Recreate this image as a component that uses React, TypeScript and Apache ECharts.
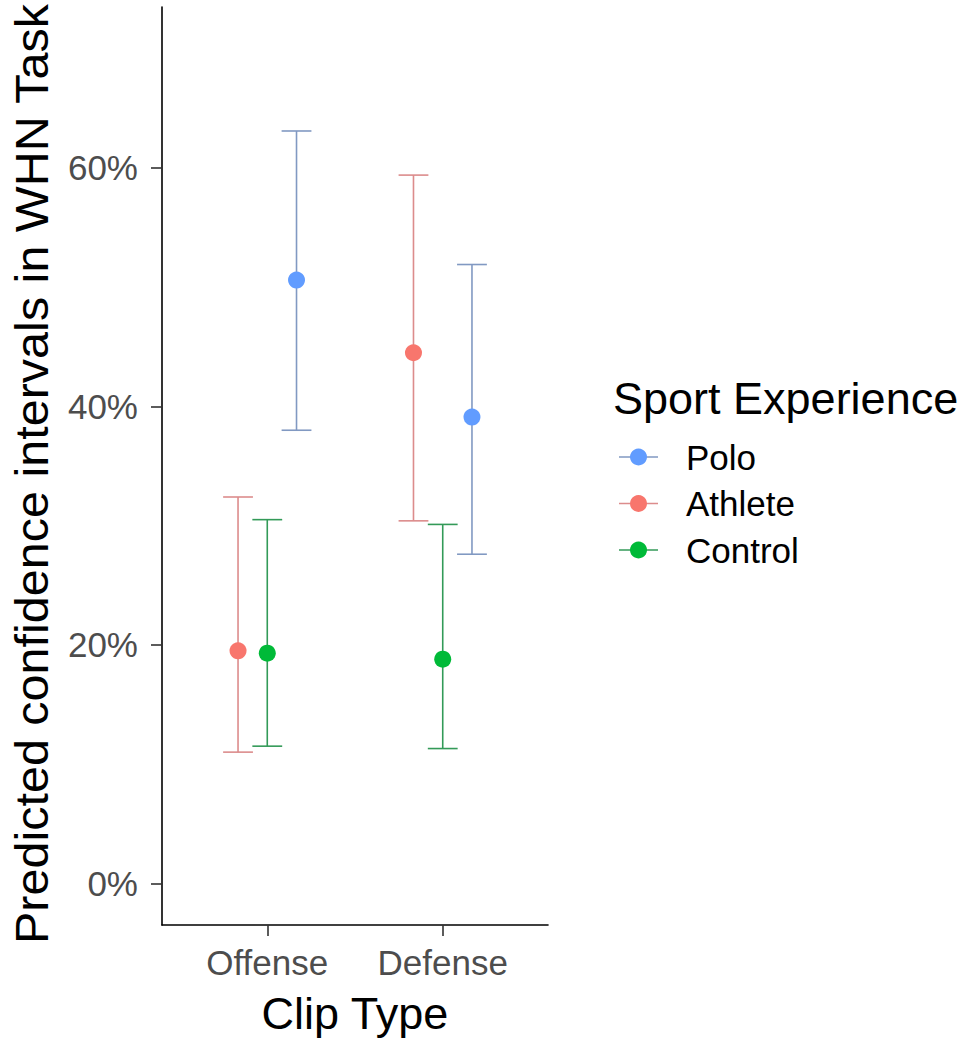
import React, { useEffect, useRef } from "react";
import * as echarts from "echarts";

// Clip types on the x axis and sport-experience groups
const CATEGORIES = ["Offense", "Defense"];
const GROUPS = ["Polo", "Athlete", "Control"];

// Predicted confidence (%) with lower / upper interval bounds, per clip type
const POLO_EST = [50.6, 39.1];
const POLO_LO = [38.0, 27.6];
const POLO_HI = [63.1, 51.9];

const ATHLETE_EST = [19.5, 44.5];
const ATHLETE_LO = [11.0, 30.4];
const ATHLETE_HI = [32.4, 59.4];

const CONTROL_EST = [19.3, 18.8];
const CONTROL_LO = [11.5, 11.3];
const CONTROL_HI = [30.5, 30.1];

const Y_TICKS = [0, 20, 40, 60];

const SERIES_DATA: Record<string, { est: number[]; lo: number[]; hi: number[] }> = {
  Polo: { est: POLO_EST, lo: POLO_LO, hi: POLO_HI },
  Athlete: { est: ATHLETE_EST, lo: ATHLETE_LO, hi: ATHLETE_HI },
  Control: { est: CONTROL_EST, lo: CONTROL_LO, hi: CONTROL_HI },
};

const POINT_COLORS: Record<string, string> = {
  Polo: "#619CFF",
  Athlete: "#F8766D",
  Control: "#00BA38",
};
const BAR_COLORS: Record<string, string> = {
  Polo: "#8199c2",
  Athlete: "#dc8c8c",
  Control: "#339a58",
};

// position dodge (width 0.5 shared by three groups)
const DODGE: Record<string, number> = { Athlete: -1 / 6, Control: 0, Polo: 1 / 6 };
const CAP_WIDTH = 0.17;

const FONT = "Liberation Sans, Arial, sans-serif";

function xPos(catIndex: number, group: string) {
  return catIndex + 1 + DODGE[group];
}

function buildOption() {
  const series: any[] = [];
  GROUPS.forEach((g) => {
    const d = SERIES_DATA[g];
    series.push({
      type: "custom",
      name: g + " interval",
      z: 2,
      clip: false,
      encode: { x: 0, y: [1, 2] },
      data: CATEGORIES.map((_, i) => [xPos(i, g), d.lo[i], d.hi[i]]),
      renderItem: (params: any, api: any) => {
        const x = api.value(0);
        const lo = api.value(1);
        const hi = api.value(2);
        const top = api.coord([x, hi]);
        const bot = api.coord([x, lo]);
        const left = api.coord([x - CAP_WIDTH / 2, hi])[0];
        const right = api.coord([x + CAP_WIDTH / 2, hi])[0];
        const style = { stroke: BAR_COLORS[g], lineWidth: 1.6, fill: null };
        return {
          type: "group",
          children: [
            { type: "line", shape: { x1: top[0], y1: top[1], x2: bot[0], y2: bot[1] }, style },
            { type: "line", shape: { x1: left, y1: top[1], x2: right, y2: top[1] }, style },
            { type: "line", shape: { x1: left, y1: bot[1], x2: right, y2: bot[1] }, style },
          ],
        };
      },
    });
  });
  GROUPS.forEach((g) => {
    const d = SERIES_DATA[g];
    series.push({
      type: "scatter",
      name: g,
      z: 3,
      symbol: "circle",
      symbolSize: 17,
      itemStyle: { color: POINT_COLORS[g], opacity: 1 },
      data: CATEGORIES.map((_, i) => [xPos(i, g), d.est[i]]),
    });
  });

  const legendY = [457, 503.5, 550];
  const legendItems: any[] = [];
  GROUPS.forEach((g, i) => {
    const y = legendY[i];
    legendItems.push({
      type: "line",
      shape: { x1: 619, y1: y, x2: 658, y2: y },
      style: { stroke: BAR_COLORS[g], lineWidth: 1.5 },
    });
    legendItems.push({
      type: "circle",
      shape: { cx: 638.5, cy: y, r: 8.5 },
      style: { fill: POINT_COLORS[g] },
    });
    legendItems.push({
      type: "text",
      x: 686,
      y,
      style: {
        text: g,
        font: `35px ${FONT}`,
        fill: "#000",
        align: "left",
        verticalAlign: "middle",
      },
    });
  });

  return {
    animation: false,
    backgroundColor: "#ffffff",
    grid: { left: 162, top: 7, width: 386, height: 918, containLabel: false, outerBoundsMode: "none" },
    xAxis: {
      type: "value",
      min: 0.4,
      max: 2.6,
      splitLine: { show: false },
      axisLine: { show: true, onZero: false, lineStyle: { color: "#000", width: 1.6 } },
      axisTick: { show: true, customValues: [1, 2], length: 11, lineStyle: { color: "#333", width: 1.6 } },
      axisLabel: {
        customValues: [1, 2],
        formatter: (v: number) => CATEGORIES[Math.round(v) - 1] ?? "",
        fontSize: 35,
        fontFamily: FONT,
        color: "#4d4d4d",
        margin: 20,
      },
    },
    yAxis: {
      type: "value",
      min: -3.5,
      max: 73.5,
      splitLine: { show: false },
      axisLine: { show: true, onZero: false, lineStyle: { color: "#000", width: 1.6 } },
      axisTick: { show: true, customValues: Y_TICKS, length: 11, lineStyle: { color: "#333", width: 1.6 } },
      axisLabel: {
        customValues: Y_TICKS,
        formatter: (v: number) => `${v}%`,
        fontSize: 35,
        fontFamily: FONT,
        color: "#4d4d4d",
        margin: 24,
      },
    },
    series,
    graphic: [
      {
        type: "text",
        x: 32,
        y: 474,
        rotation: Math.PI / 2,
        scaleX: 1.055,
        style: {
          text: "Predicted confidence intervals in WHN Task",
          font: `46px ${FONT}`,
          fill: "#000",
          align: "center",
          verticalAlign: "middle",
        },
      },
      {
        type: "text",
        x: 355,
        y: 1013,
        style: {
          text: "Clip Type",
          font: `45px ${FONT}`,
          fill: "#000",
          align: "center",
          verticalAlign: "middle",
        },
      },
      {
        type: "text",
        x: 613,
        y: 398,
        style: {
          text: "Sport Experience",
          font: `45px ${FONT}`,
          fill: "#000",
          align: "left",
          verticalAlign: "middle",
        },
      },
      ...legendItems,
    ],
  };
}

export default function App() {
  const ref = useRef<HTMLDivElement>(null);
  useEffect(() => {
    if (!ref.current) return;
    const chart = echarts.init(ref.current, null, { renderer: "svg" });
    chart.setOption(buildOption() as any);
    return () => chart.dispose();
  }, []);
  return (
    <div
      ref={ref}
      style={{ position: "absolute", left: 0, top: 0, width: 972, height: 1045, background: "#fff" }}
    />
  );
}
